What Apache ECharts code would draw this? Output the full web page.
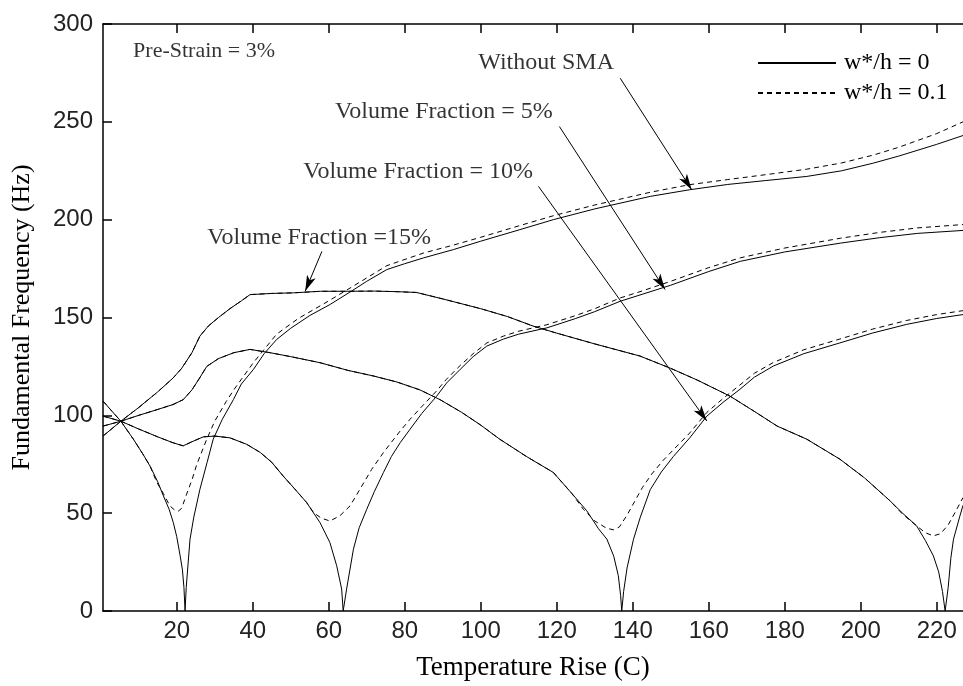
<!DOCTYPE html>
<html><head><meta charset="utf-8">
<script src="https://cdn.jsdelivr.net/npm/echarts@6/dist/echarts.min.js"></script>
<style>html,body{margin:0;padding:0;background:#fff}#c{width:963px;height:686px}</style>
</head><body><div id="c"></div>
<script>
// ---- tick labels ----
const xTicks = [20, 40, 60, 80, 100, 120, 140, 160, 180, 200, 220];
const yTicks = [0, 50, 100, 150, 200, 250, 300];

// ---- Without SMA ----
const noSmaSolid = [[0.6,107.3],[3,102],[5.3,97],[8.6,87.8],[11,80.5],[13,74],[15,66],[16.5,58.8],[18,52],[19.1,45.2],[20,38],[20.9,28.2],[21.5,21],[21.9,12],[22.2,0],[22.5,12],[22.9,22],[23.5,36.7],[24.5,48],[26.1,62.2],[28,76],[29.6,87.8],[32,98],[34.9,108],[37,116],[40.2,123.5],[43,131.5],[46.3,138.8],[50,144.5],[55,151],[60.3,156.6],[66,163.5],[70,168.5],[75.3,174.5],[80,177.5],[85,180.5],[92.8,184.7],[100,189],[110.3,194.9],[119.1,200],[130,205.5],[144.6,211.9],[155,215.3],[165,218],[175,220],[185.8,222.1],[195,225],[203.3,228.9],[210,232.5],[220,238.5],[226.9,243]];
const noSmaDashed = [[0.6,107.3],[3,102],[5.3,97],[8.6,87.8],[11,80.5],[13,74],[14.7,66],[16.5,60],[18.2,53.7],[19.5,51.5],[20.4,51],[21.3,52.5],[22.6,59.7],[24,67],[25.3,75],[27.9,87.8],[30,97],[33,107],[35,113],[40.2,127],[46.3,141.5],[52,149.5],[60,158.5],[66,165.5],[75.3,176.5],[85,183],[92.8,187],[100,191],[110.3,197],[119.1,202],[130,207.5],[144.6,214],[155,217.9],[165,220.5],[175,223],[185.8,225.8],[195,229],[203.3,233],[210,237],[220,244],[226.9,250]];

// ---- Volume Fraction = 5% ----
const vf5Solid = [[0.6,99.6],[5.3,97],[10,93],[15,89],[19,86],[21.7,84.4],[24,86.5],[27,89],[30,89.4],[34,88.5],[38.4,85.2],[42,81],[45,76],[48,69],[51,62.5],[54.2,55.4],[57.7,45.2],[60.3,35],[62.1,23.1],[63.4,11.2],[63.8,0],[64.7,11.2],[66.5,31.6],[68,42.5],[70,52],[72,61],[74.4,70.8],[76.5,79],[78.8,86],[81.4,92.9],[84.5,101],[88.4,109.8],[91,116.5],[94.6,123.5],[98,130],[101.6,135.4],[106,139],[110,141.5],[117.4,144.7],[125,149.5],[130,153],[136.7,158.3],[141.9,161.5],[150,166.5],[160,173.5],[168.3,178.7],[180,183.5],[194.6,188],[205,190.8],[215,193],[226.9,194.5]];
const vf5Dashed = [[0.6,99.6],[5.3,97],[10,93],[15,89],[19,86],[21.7,84.4],[24,86.5],[27,89],[30,89.4],[34,88.5],[38.4,85.2],[42,81],[45,76],[48,69],[51,62.5],[54.2,55.4],[56,50.3],[58,47.5],[60.3,46],[62.9,48.6],[65.6,53.7],[68.2,62.2],[71.3,72.4],[74.4,81],[78.8,92],[81.4,98],[84.5,104.5],[88.4,112.5],[91,118.5],[94.6,125.5],[98,131.5],[101.6,137],[106,140.5],[110,143],[117.4,146.3],[125,151],[130,154.5],[136.7,160],[141.9,163.2],[150,168.5],[160,175.5],[168.3,180.5],[180,185.5],[194.6,190.5],[205,193.5],[215,195.8],[226.9,197.5]];

// ---- Volume Fraction = 10% ----
const vf10Solid = [[0.6,94.5],[5.3,97],[10,100],[15,103],[19,105.5],[21.7,108],[24,113],[26,119],[27.9,125],[31,129],[35,132],[39.3,133.7],[44.6,132],[50,130],[57.7,126.9],[65,123],[72,120],[78,117],[84,113],[89.3,108],[95,101.5],[100,95],[105,87.8],[112,79],[119.1,70.8],[124,60],[127.9,51.2],[131,42],[133.2,36.7],[135,28],[136.2,18],[136.8,8],[137.1,0],[137.6,10],[138.5,22],[140.2,36.7],[142,48],[144.6,62],[147.5,71],[150.7,79],[155,88.5],[159.5,99.6],[164,107],[168.2,113.3],[172,119.5],[177,125.2],[185,131.5],[194.5,137],[203,142],[212.1,146.5],[220,149.5],[226.9,151.5]];
const vf10Dashed = [[0.6,94.5],[5.3,97],[10,100],[15,103],[19,105.5],[21.7,108],[24,113],[26,119],[27.9,125],[31,129],[35,132],[39.3,133.7],[44.6,132],[50,130],[57.7,126.9],[65,123],[72,120],[78,117],[84,113],[89.3,108],[95,101.5],[100,95],[105,87.8],[112,79],[119.1,70.8],[124,60],[127,52],[130,46],[133.2,42.2],[135,41.5],[136.5,43],[138.5,49],[140.5,56],[142.5,63],[145,70],[148,77],[151,83],[155,91],[159.5,101.5],[164,109],[168.2,115.5],[172,121.5],[177,127],[185,133.5],[194.5,139],[203,144],[212.1,148.5],[220,151.5],[226.9,153.5]];

// ---- Volume Fraction = 15% ----
const vf15Solid = [[0.6,89.4],[5.3,97],[10,104],[15,112],[19,119],[21.3,124],[24,132],[26.1,140.5],[28.3,145.6],[31,150],[34,154.5],[37,158.5],[39.3,161.7],[45,162.3],[50.7,162.6],[57.8,163.4],[65,163.4],[72,163.5],[78,163.2],[83.1,162.8],[90,159.5],[100,154.5],[107,150.5],[113.8,145.6],[120,142],[130,136.5],[141.9,130.3],[150,124],[157,118],[165.6,109.8],[172,102],[178,94.5],[185.8,87.8],[194.5,77.6],[201,68],[207.7,56.3],[211,50],[214.7,43.5],[217,36],[219.1,28.2],[220.5,20],[221.5,10],[222.2,0],[223,12],[223.7,27],[224.4,36.7],[226,48],[226.9,54]];
const vf15Dashed = [[0.6,89.4],[5.3,97],[10,104],[15,112],[19,119],[21.3,124],[24,132],[26.1,140.5],[28.3,145.6],[31,150],[34,154.5],[37,158.5],[39.3,161.7],[45,162.3],[50.7,162.6],[57.8,163.4],[65,163.4],[72,163.5],[78,163.2],[83.1,162.8],[90,159.5],[100,154.5],[107,150.5],[113.8,145.6],[120,142],[130,136.5],[141.9,130.3],[150,124],[157,118],[165.6,109.8],[172,102],[178,94.5],[185.8,87.8],[194.5,77.6],[201,68],[207.7,56.3],[211,49.5],[214.7,43.5],[217,40],[219.1,38.4],[221,39.5],[223,44],[225,51],[226.9,58]];

// ---- annotations (data coordinates) ----
const noteTexts = [
  {name: 'Pre-Strain = 3%', value: [27.2, 286.2], size: 22},
  {name: 'Without SMA', value: [117.2, 280.1], size: 24},
  {name: 'Volume Fraction = 5%', value: [90.3, 255.1], size: 24},
  {name: 'Volume Fraction = 10%', value: [83.5, 224.5], size: 24},
  {name: 'Volume Fraction =15%', value: [57.5, 190.8], size: 24}
];
const noteArrows = [
  [[136.7, 272.3], [155.5, 215.3]],
  [[120.7, 247.6], [148.5, 164.3]],
  [[115.2, 217.0], [159.5, 97.1]],
  [[58.2, 183.8], [53.8, 163.4]]
];

const SOLID = 'w*/h = 0', DASHED = 'w*/h = 0.1';
const serif = "'Liberation Serif', 'Times New Roman', serif";
const sans = "'Liberation Sans', Arial, sans-serif";

function lineSeries(name, data, dashed) {
  return {
    name: name, type: 'line', data: data, showSymbol: false, symbol: 'none',
    smooth: false, silent: true, z: 3,
    itemStyle: {color: '#000'},
    lineStyle: {color: '#000', width: 1, type: dashed ? [5, 4] : 'solid'}
  };
}

const series = [
  lineSeries(SOLID, noSmaSolid, false),
  lineSeries(DASHED, noSmaDashed, true),
  lineSeries(SOLID, vf5Solid, false),
  lineSeries(DASHED, vf5Dashed, true),
  lineSeries(SOLID, vf10Solid, false),
  lineSeries(DASHED, vf10Dashed, true),
  lineSeries(SOLID, vf15Solid, false),
  lineSeries(DASHED, vf15Dashed, true)
];
series[0].markLine = {
  silent: true, animation: false,
  symbol: ['none', 'arrow'], symbolSize: [7, 16],
  lineStyle: {color: '#000', width: 1, type: 'solid'},
  label: {show: false},
  data: noteArrows.map(a => [{coord: a[0], symbol: 'none'}, {coord: a[1], symbol: 'arrow'}])
};
series.push({
  name: 'notes', type: 'scatter', symbolSize: 0, silent: true, z: 5,
  data: noteTexts.map(t => ({name: t.name, value: t.value, label: {fontSize: t.size}})),
  label: {show: true, position: 'inside', formatter: p => p.name,
    color: '#000', fontFamily: serif, fontSize: 24}
});

const chart = echarts.init(document.getElementById('c'), null, {renderer: 'canvas'});
chart.setOption({
  animation: false,
  backgroundColor: '#fff',
  grid: {left: 103, right: 0, top: 24, bottom: 74, containLabel: false},
  legend: {
    data: [SOLID, DASHED], orient: 'vertical', left: 757, top: 51, padding: 0,
    itemWidth: 78, itemHeight: 14, itemGap: 6, selectedMode: false,
    itemStyle: {opacity: 0},
    textStyle: {fontFamily: serif, fontSize: 24, color: '#000', padding: [0, 0, 0, 3]}
  },
  xAxis: [{
    type: 'value', min: 0.6, max: 226.9, position: 'bottom',
    name: 'Temperature Rise (C)', nameLocation: 'middle', nameGap: 43,
    nameTextStyle: {fontFamily: serif, fontSize: 27, color: '#000'},
    axisLine: {show: true, lineStyle: {color: '#000', width: 1.5}},
    axisTick: {show: true, inside: true, length: 9, customValues: xTicks, lineStyle: {color: '#000', width: 1.5}},
    axisLabel: {show: true, customValues: xTicks, fontFamily: sans, fontSize: 24, color: '#222', margin: 8},
    splitLine: {show: false}
  }, {
    type: 'value', min: 0.6, max: 226.9, position: 'top',
    axisLine: {show: true, lineStyle: {color: '#000', width: 1.5}},
    axisTick: {show: true, inside: true, length: 9, customValues: xTicks, lineStyle: {color: '#000', width: 1.5}},
    axisLabel: {show: false},
    splitLine: {show: false}
  }],
  yAxis: [{
    type: 'value', min: 0, max: 300, interval: 50,
    name: 'Fundamental Frequency (Hz)', nameLocation: 'middle', nameGap: 68,
    nameTextStyle: {fontFamily: serif, fontSize: 26, color: '#000'},
    axisLine: {show: true, lineStyle: {color: '#000', width: 1.5}},
    axisTick: {show: true, inside: true, length: 9, lineStyle: {color: '#000', width: 1.5}},
    axisLabel: {show: true, fontFamily: sans, fontSize: 24, color: '#222', margin: 10,
      formatter: v => (yTicks.indexOf(v) >= 0 ? String(v) : '')},
    splitLine: {show: false}
  }],
  series: series
});
</script>
</body></html>
